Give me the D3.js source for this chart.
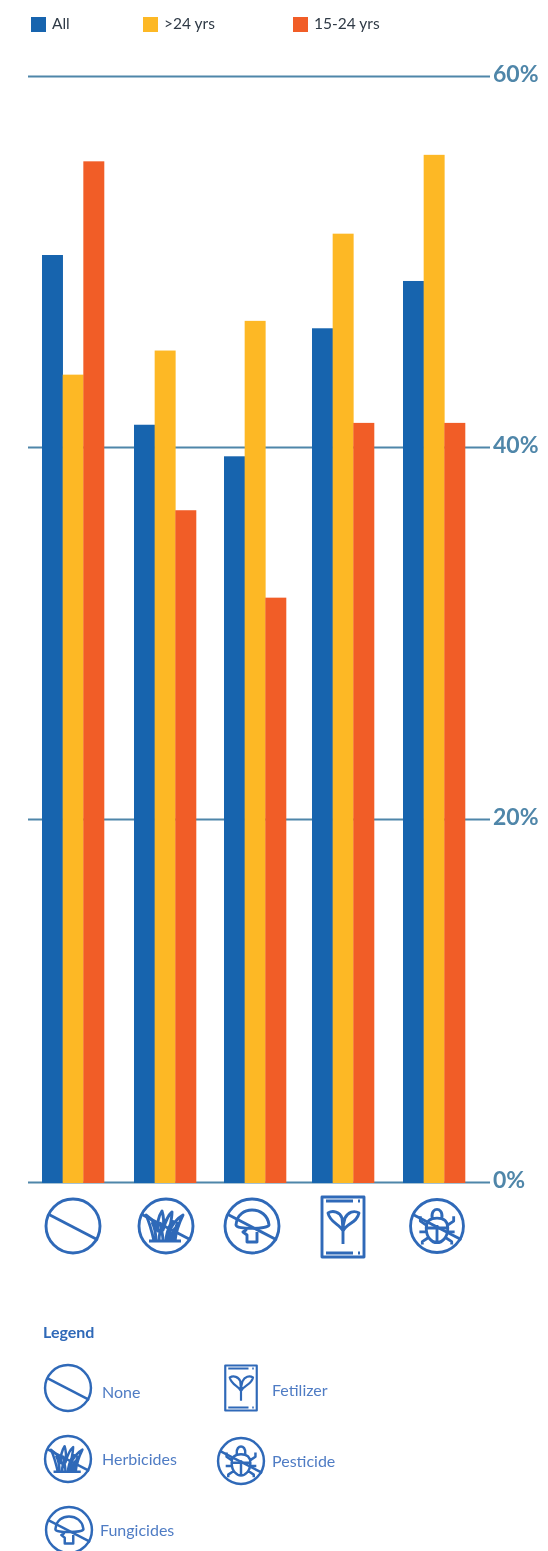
<!DOCTYPE html>
<html><head><meta charset="utf-8">
<script src="https://cdn.jsdelivr.net/npm/d3@7/dist/d3.min.js"></script>
<style>html,body{margin:0;padding:0;background:#fff}svg{display:block;filter:blur(0.45px)}text{font-family:Lato,sans-serif}</style>
</head><body><svg id="c" width="548" height="1551"></svg>
<script>
const categories = ["None","Herbicides","Fungicides","Fertilizer","Pesticide"];
const seriesNames = ["All",">24 yrs","15-24 yrs"];
const seriesColors = ["#1764ae","#fdb825","#f15d27"];
const allValues = [50.35,41.2,39.5,46.4,48.95];
const olderValues = [43.9,45.2,46.8,51.5,55.75];
const youthValues = [55.4,36.6,31.9,41.3,41.3];
const tickValues = [0,20,40,60];
const legendLabels = ["None","Herbicides","Fungicides","Fetilizer","Pesticide"];

const svg = d3.select("#c");
const y = d3.scaleLinear().domain(tickValues).range([1182,819,447,76]);
const groupX = d3.scaleOrdinal(categories,[42,134,224,312,403]);
const barX = d3.scaleBand().domain(seriesNames).range([0,62]);
const series = [allValues,olderValues,youthValues];
const axisColor = "#4f86a9", iconColor = "#2f69b8";

// grid
const axis = d3.axisRight(y).tickValues(tickValues).tickFormat(d=>d+"%").tickSize(462).tickPadding(6);
const ag = svg.append("g").attr("transform","translate(28,0)").call(axis);
ag.select(".domain").remove();
ag.selectAll("line").attr("stroke",axisColor).attr("stroke-width",2);
ag.selectAll("text").attr("fill",axisColor).attr("font-size",23).attr("font-weight",700)
  .attr("x",465).attr("y",-1.5).attr("text-anchor","start");

// bars
series.forEach((vals,si)=>{
  svg.append("g").selectAll("rect").data(vals).join("rect")
    .attr("x",(d,i)=>groupX(categories[i])+barX(seriesNames[si]))
    .attr("width",barX.bandwidth()+0.3)
    .attr("y",d=>y(d)).attr("height",d=>y(0)-y(d)+1)
    .attr("fill",seriesColors[si]);
});

// top legend
const keyX = d3.scaleOrdinal(seriesNames,[31,143,293]);
const key = svg.append("g").selectAll("g").data(seriesNames).join("g")
  .attr("transform",d=>`translate(${keyX(d)},17)`);
key.append("rect").attr("width",15).attr("height",15).attr("fill",(d,i)=>seriesColors[i]);
key.append("text").text(d=>d).attr("x",21).attr("y",12).attr("font-size",15.5).attr("fill","#2f3a46");

// icons (drawn in a space where the ring has radius 28)
function ring(g){g.append("circle").attr("r",27).attr("fill","#fff");}
function slash(g){g.append("path").attr("d","M-25,-12L25,14");}
const drawers = {
  None(g){ring(g);slash(g);},
  Herbicides(g){ring(g);
    g.append("path").attr("d","M-17,15H15M-12,15C-14,6-16,-2-20,-11C-13,-6-9,-1-8,5C-9,-3-8,-9-4,-15C-2,-9-2,-3-3,4C-1,-3,1,-10,6,-14C6,-7,4,-1,3,6C6,-1,10,-7,17,-11C13,-3,10,6,9,15M-7,15C-7,9-6,4-3,-2M0,15C0,9,2,3,5,-3M5,15C5,10,6,6,9,2M-14,-4C-11,2-10,8-10,15M-3,15C-3,8-5,2-6,-4M7,-6C5,0,3,8,2,15M12,-4C9,2,8,9,7,15");
    slash(g);},
  Fungicides(g){ring(g);
    g.append("path").attr("d","M-16,-1C-15,-12-7,-16,0,-16C8,-16,16,-11,17,-1C17,3,-16,4,-16,-1ZM-6,2L-6,4-9,6 -5,9V16H5V6");
    slash(g);},
  Fertilizer(g){
    g.append("rect").attr("x",-21).attr("y",-30).attr("width",42).attr("height",60).attr("fill","#fff");
    g.append("path").attr("d","M-17,-26H10M15,-26H17M-17,26H10M15,26H17");
    g.append("path").attr("d","M0,17V0M0,4C-3,-3-13,-4-15,-14C-10,-17-3,-15-1,-9C-0.5,-6-0.5,-3,0,4C0,-3,1,-6,2,-9C5,-15,11,-17,16,-14C14,-4,4,-4,0,4");
  },
  Pesticide(g){ring(g);
    g.append("path").attr("d","M-11,2C-11,-6-6,-8,0,-8C6,-8,11,-6,11,2C11,12,5,17,0,17C-5,17-11,12-11,2ZM-11,2H11M0,-1V17M-5,-8C-6,-15-2,-17,0,-17C2,-17,6,-15,5,-8M-11,-1L-17,-5V-10M11,-1L17,-5V-10M-11,6H-18M11,6H18M-9,12L-15,16V19M9,12L15,16V19");
    slash(g);}
};
function icon(name,cx,cy,scale){
  const g = svg.append("g").attr("transform",`translate(${cx},${cy}) scale(${scale})`)
    .attr("fill","none").attr("stroke",iconColor).attr("stroke-width",2.9).attr("stroke-linejoin","round");
  drawers[name](g);
  if(name==="Fertilizer"){g.select("rect").attr("stroke",iconColor);}
  else g.select("circle").attr("stroke",iconColor);
}
const iconRowX = d3.scaleOrdinal(categories,[73,166,252,343,437]);
const iconRowY = d3.scaleOrdinal(categories,[1226,1226,1226,1227,1226]);
categories.forEach(c=>icon(c,iconRowX(c),iconRowY(c),c==="Pesticide"?0.98:1));

// icon legend
svg.append("text").text("Legend").attr("x",43).attr("y",1338).attr("font-size",16).attr("font-weight",700).attr("fill",iconColor);
const legX = d3.scaleOrdinal(categories,[68,68,69,241,241]);
const legY = d3.scaleOrdinal(categories,[1388,1459,1530,1388,1461]);
const legTextX = d3.scaleOrdinal(categories,[102,102,100,272,272]);
categories.forEach((c,i)=>{
  icon(c,legX(c),legY(c),c==="Fertilizer"?0.75:0.85);
  svg.append("text").text(legendLabels[i]).attr("x",legTextX(c)).attr("y",legY(c)+ (c==="Fertilizer"?8:c==="None"?10:6))
    .attr("font-size",16).attr("fill","#4f7cc4");
});
</script></body></html>
